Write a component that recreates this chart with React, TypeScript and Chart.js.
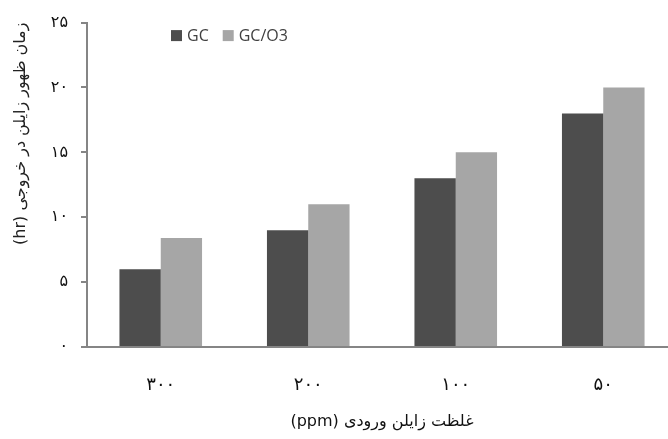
import { useEffect, useRef } from 'react';
import { Chart, registerables } from 'chart.js';

Chart.register(...registerables);

const categories = ['۳۰۰', '۲۰۰', '۱۰۰', '۵۰'];
const gcValues = [6, 9, 13, 18];
const gcO3Values = [8.4, 11, 15, 20];
const seriesNames = ['GC', 'GC/O3'];
const seriesColors = ['#4d4d4d', '#a6a6a6'];
const yTickLabels: Record<number, string> = { 0: '۰', 5: '۵', 10: '۱۰', 15: '۱۵', 20: '۲۰', 25: '۲۵' };
const yTitle = '(hr) زمان ظهور زایلن در خروجی';
const xTitle = '(ppm) غلظت زایلن ورودی';

const inlineLegend = {
  id: 'inlineLegend',
  afterDraw(chart: any) {
    const { ctx, chartArea } = chart;
    ctx.save();
    ctx.font = '16px "Open Sans"';
    ctx.textBaseline = 'middle';
    ctx.textAlign = 'left';
    let x = chartArea.left + 84;
    const y = chartArea.top + 13;
    chart.data.datasets.forEach((ds: any) => {
      ctx.fillStyle = ds.backgroundColor;
      ctx.fillRect(x, y - 5.5, 11, 11);
      x += 16;
      ctx.fillStyle = '#404040';
      ctx.fillText(ds.label, x, y + 1);
      x += ctx.measureText(ds.label).width + 14;
    });
    ctx.restore();
  },
};

export default function App() {
  const ref = useRef<HTMLCanvasElement | null>(null);

  useEffect(() => {
    if (!ref.current) return;
    const chart = new Chart(ref.current, {
      type: 'bar',
      data: {
        labels: categories,
        datasets: [
          { label: seriesNames[0], data: gcValues, backgroundColor: seriesColors[0], borderWidth: 0 },
          { label: seriesNames[1], data: gcO3Values, backgroundColor: seriesColors[1], borderWidth: 0 },
        ],
      },
      options: {
        animation: false,
        responsive: true,
        maintainAspectRatio: false,
        layout: { padding: { top: 18, right: 0, left: 0, bottom: 0 } },
        datasets: { bar: { categoryPercentage: 0.56, barPercentage: 1.0 } },
        plugins: {
          legend: { display: false },
          tooltip: { enabled: false },
        },
        scales: {
          x: {
            grid: { display: false },
            border: { display: true, color: '#858585', width: 2 },
            ticks: {
              padding: 20,
              color: '#111',
              font: { family: '"DejaVu Sans"', size: 18 },
            },
            title: {
              display: true,
              text: xTitle,
              color: '#111',
              font: { family: '"DejaVu Sans"', size: 16 },
              padding: { top: 0, bottom: 8 },
            },
            afterFit(scale: any) {
              scale.height = 92;
            },
          },
          y: {
            min: 0,
            max: 25,
            grid: {
              drawOnChartArea: false,
              drawTicks: true,
              tickLength: 6,
              color: '#858585',
              lineWidth: 2,
            },
            border: { display: true, color: '#858585', width: 2 },
            ticks: {
              stepSize: 5,
              padding: 13,
              color: '#111',
              font: { family: '"DejaVu Sans"', size: 16 },
              callback: (v: any) => yTickLabels[Number(v)] ?? String(v),
            },
            title: {
              display: true,
              text: yTitle,
              align: 'end',
              color: '#222',
              font: { family: '"DejaVu Sans"', size: 16 },
              padding: { top: 11, bottom: 0 },
            },
            afterFit(scale: any) {
              scale.width = 87;
            },
          },
        },
      },
      plugins: [inlineLegend],
    });
    return () => chart.destroy();
  }, []);

  return (
    <div style={{ position: 'fixed', left: 0, top: 0, width: 668, height: 439, overflow: 'hidden', background: '#fff' }}>
      <div style={{ position: 'relative', width: 677, height: 439 }}>
        <canvas ref={ref} />
      </div>
    </div>
  );
}
